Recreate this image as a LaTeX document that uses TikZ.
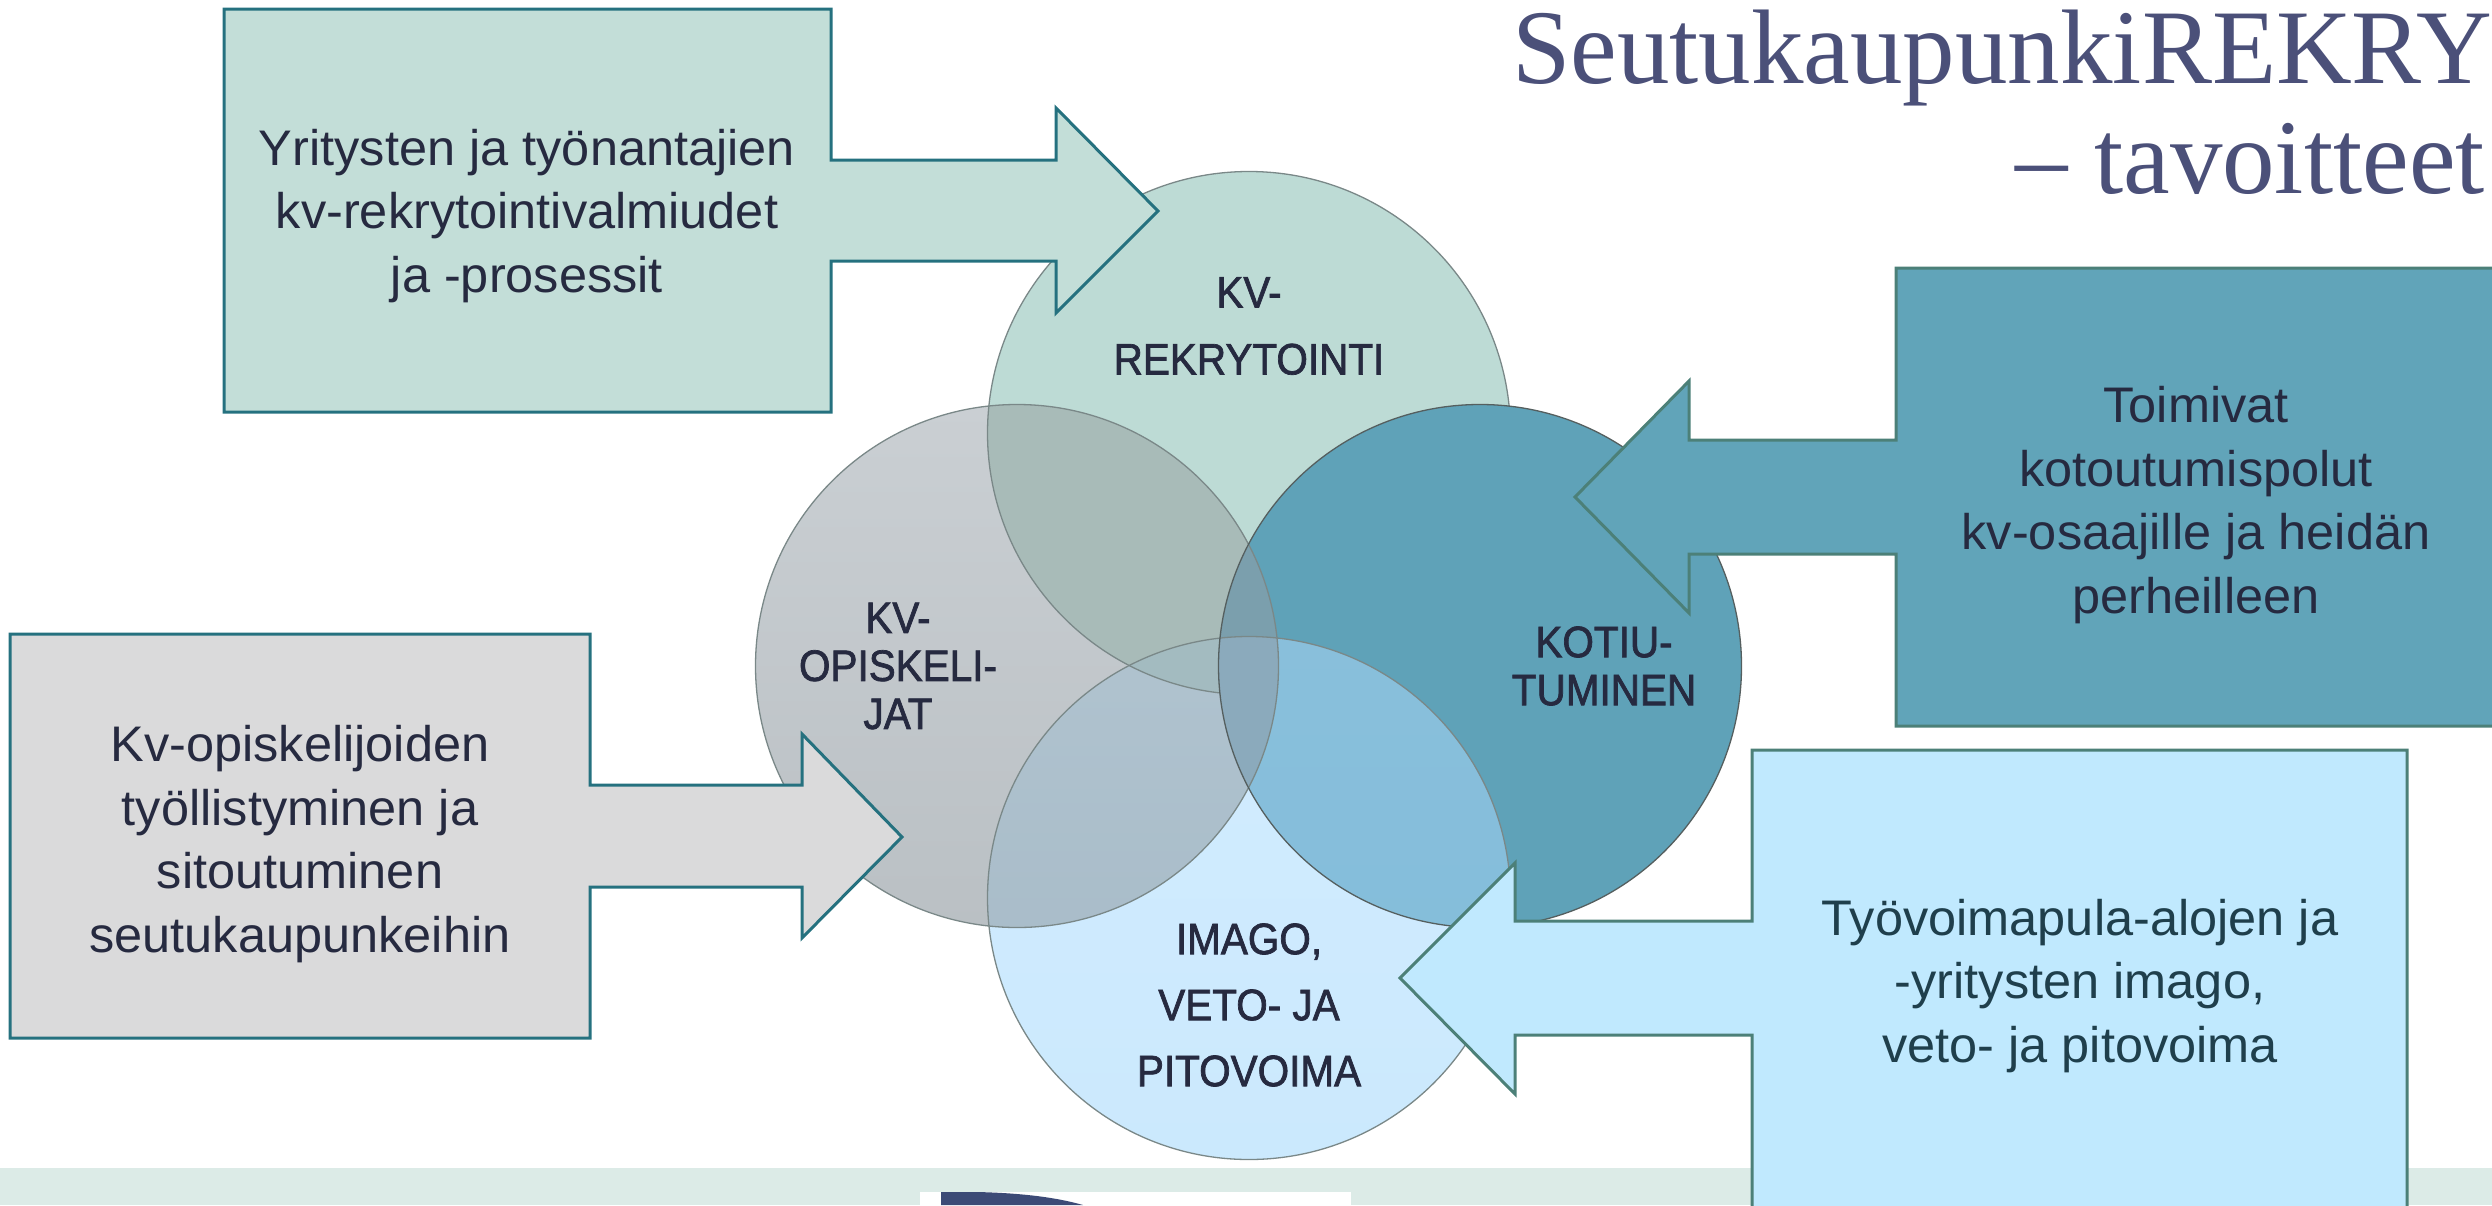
\documentclass[tikz,border=0pt]{standalone}
\usepackage{fontspec}
\setmainfont[FakeStretch=1.01]{Liberation Sans}
\newfontfamily\titlefont[FakeStretch=0.99]{Liberation Serif}
\newfontfamily\lobefont[FakeStretch=0.92,FakeBold=1.6]{Liberation Sans}
\usepackage{tikz}

\definecolor{inkdark}{HTML}{262A40}
\definecolor{inkteal}{HTML}{1F3F4C}
\definecolor{titleblue}{HTML}{4B5079}
\definecolor{edgeteal}{HTML}{25717F}
\definecolor{edgegreen}{HTML}{4C8078}
\definecolor{edgelobe}{HTML}{7A8888}
\definecolor{panelmint}{HTML}{C3DED8}
\definecolor{panelgrey}{HTML}{DADADB}
\definecolor{panelblue}{HTML}{61A4B9}
\definecolor{panelsky}{HTML}{C0E9FE}
\definecolor{bandmint}{HTML}{DCEBE7}
\definecolor{logoblue}{HTML}{3C4A76}
\definecolor{lobemint}{HTML}{BDDBD5}
\definecolor{lobegreyhi}{HTML}{CACFD3}
\definecolor{lobegreylo}{HTML}{BAC0C4}
\definecolor{lobeskyhi}{HTML}{D2ECFF}
\definecolor{lobeskylo}{HTML}{CBE9FD}
\definecolor{lobeteal}{HTML}{5FA2B8}
\definecolor{mintgrey}{HTML}{A8BBB8}
\definecolor{skygreyhi}{HTML}{B0C3CF}
\definecolor{skygreylo}{HTML}{A4B8C5}
\definecolor{mintskygrey}{HTML}{A3BBC0}
\definecolor{tealgrey}{HTML}{7B9FAD}
\definecolor{tealskyhi}{HTML}{89BFDB}
\definecolor{tealskylo}{HTML}{81BDDA}
\definecolor{tealskygrey}{HTML}{8BAABC}

\newcommand{\lobeclip}[1]{\clip (#1) circle (261.5);}

\begin{document}
\begin{tikzpicture}[x=1pt,y=-1pt]
  \tikzstyle{lobe line}=[draw=edgelobe,line width=1.3pt]
  \tikzstyle{left panel}=[draw=edgeteal,line width=3pt,line join=miter]
  \tikzstyle{right panel}=[draw=edgegreen,line width=3pt,line join=miter]
  \tikzstyle{panel text}=[align=center,text=inkdark,font=\fontsize{50}{63.5}\selectfont]
  \tikzstyle{lobe text}=[align=center,text=inkdark,font=\lobefont\fontsize{44}{48}\selectfont]
  \tikzstyle{title text}=[anchor=base east,inner sep=0pt,text=titleblue,font=\titlefont\fontsize{106}{110}\selectfont]

  \useasboundingbox (0,0) rectangle (2492,1205);

  \coordinate (ctop) at (1249,433);
  \coordinate (cleft) at (1017,666);
  \coordinate (cright) at (1480,666);
  \coordinate (cbottom) at (1249,898);

  % footer band
  \fill[bandmint] (0,1168) rectangle (2492,1205);
  \fill[white] (920,1192) rectangle (1351,1205);
  \fill[logoblue] (941,1205) -- (941,1192) -- (977,1192) .. controls (1020,1193) and (1055,1197) .. (1083,1205) -- cycle;

  % base lobes
  \fill[lobemint] (ctop) circle (261.5);
  \shade[top color=lobegreyhi,bottom color=lobegreylo] (cleft) circle (261.5);
  \shade[top color=lobeskyhi,bottom color=lobeskylo] (cbottom) circle (261.5);

  % overlaps without the right lobe
  \begin{scope}
    \lobeclip{cleft}
    \fill[mintgrey] (ctop) circle (261.5);
    \shade[top color=skygreyhi,bottom color=skygreylo] (cbottom) circle (261.5);
    \lobeclip{ctop}
    \fill[mintskygrey] (cbottom) circle (261.5);
  \end{scope}
  \draw[lobe line] (ctop) circle (261.5);
  \draw[lobe line] (cleft) circle (261.5);
  \draw[lobe line] (cbottom) circle (261.5);

  % right lobe and its overlaps
  \fill[lobeteal] (cright) circle (261.5);
  \begin{scope}
    \lobeclip{cright}
    \fill[tealgrey] (cleft) circle (261.5);
    \shade[top color=tealskyhi,bottom color=tealskylo] (cbottom) circle (261.5);
    \begin{scope}
      \lobeclip{cleft}
      \fill[tealskygrey] (cbottom) circle (261.5);
    \end{scope}
    \draw[lobe line] (cleft) circle (261.5);
    \draw[lobe line] (cbottom) circle (261.5);
  \end{scope}
  \draw[lobe line,draw=edgelobe!70!black] (cright) circle (261.5);

  % panels with their arrows
  \filldraw[left panel,fill=panelmint] (224,9) -- (831,9) -- (831,160) -- (1056,160) -- (1056,108)
    -- (1158,211) -- (1056,313) -- (1056,261) -- (831,261) -- (831,412) -- (224,412) -- cycle;
  \filldraw[left panel,fill=panelgrey] (10,634) -- (590,634) -- (590,785) -- (802,785) -- (802,734)
    -- (902,837) -- (802,938) -- (802,887) -- (590,887) -- (590,1038) -- (10,1038) -- cycle;
  \filldraw[right panel,fill=panelblue] (2496,268) -- (1896,268) -- (1896,440) -- (1689,440) -- (1689,381)
    -- (1575,497) -- (1689,613) -- (1689,554) -- (1896,554) -- (1896,726) -- (2496,726) -- cycle;
  \filldraw[right panel,fill=panelsky] (2407,750) -- (1752,750) -- (1752,921) -- (1515,921) -- (1515,863)
    -- (1400,978) -- (1515,1094) -- (1515,1035) -- (1752,1035) -- (1752,1215) -- (2407,1215) -- cycle;

  % lobe labels
  \node[lobe text] (rekry) at (1249,326) {KV-\\[19pt]REKRYTOINTI};
  \node[lobe text] (opisk) at (898,666) {KV-\\OPISKELI-\\JAT};
  \node[lobe text] (kotiu) at (1604,666) {KOTIU-\\TUMINEN};
  \node[lobe text] (imago) at (1249,1005) {IMAGO,\\[18pt]VETO- JA\\[18pt]PITOVOIMA};

  % panel labels
  \node[panel text] (txtrekry) at (527,216) {Yritysten ja työnantajien\\kv-rekrytointivalmiudet\\ja -prosessit};
  \node[panel text] (txtopisk) at (300,844) {Kv-opiskelijoiden\\työllistyminen ja\\sitoutuminen\\seutukaupunkeihin};
  \node[panel text] (txtkotiu) at (2196,505) {Toimivat\\kotoutumispolut\\kv-osaajille ja heidän\\perheilleen};
  \node[panel text,text=inkteal] (txtimago) at (2080,986) {Työvoimapula-alojen ja\\-yritysten imago,\\veto- ja pitovoima};

  % heading
  \node[title text] (title) at (2492,83) {SeutukaupunkiREKRY};
  \node[title text] (subtitle) at (2485,193) {– tavoitteet};
\end{tikzpicture}
\end{document}
